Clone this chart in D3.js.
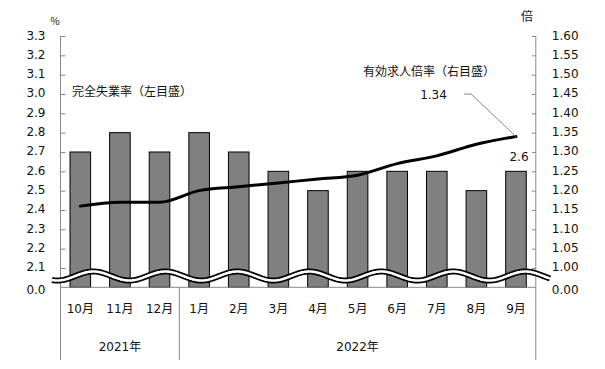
<!DOCTYPE html>
<html><head><meta charset="utf-8">
<script src="https://cdn.jsdelivr.net/npm/d3@7"></script>
<style>
html,body{margin:0;padding:0;background:#fff;}
svg text{font-family:'DejaVu Sans','Noto Sans CJK JP',sans-serif;fill:#111;}
</style></head>
<body><svg id="c" width="605" height="369"></svg>
<script>
const months = ["10月","11月","12月","1月","2月","3月","4月","5月","6月","7月","8月","9月"];
const years = ["2021年","2022年"];
const yearSpans = [3, 9];
const unemployment = [2.7,2.8,2.7,2.8,2.7,2.6,2.5,2.6,2.6,2.6,2.5,2.6];
const jobsRatio = [1.16,1.17,1.17,1.20,1.21,1.22,1.23,1.24,1.27,1.29,1.32,1.34];
const leftTicks = [2.0,2.1,2.2,2.3,2.4,2.5,2.6,2.7,2.8,2.9,3.0,3.1,3.2,3.3];
const rightTicks = [0.95,1.00,1.05,1.10,1.15,1.20,1.25,1.30,1.35,1.40,1.45,1.50,1.55,1.60];

const svg = d3.select("#c");
const X0 = 60.5, X1 = 535.8, YT = 36, YB = 287.3, YBOT = 360;
const x = d3.scaleBand().domain(months).range([X0, X1]).paddingInner(0.48).paddingOuter(0.24);
const yL = d3.scaleLinear().domain([2.0, 3.3]).range([YB, YT]);
const yR = d3.scaleLinear().domain([0.95, 1.60]).range([YB, YT]);
const fs = 12;

// bars
svg.append("g").selectAll("rect").data(unemployment).join("rect")
  .attr("x", (d,i)=>x(months[i]))
  .attr("y", d=>yL(d))
  .attr("width", x.bandwidth())
  .attr("height", d=>YB - yL(d))
  .attr("fill", "#808080").attr("stroke", "#000").attr("stroke-width", 1);

// left axis
const gL = svg.append("g").attr("transform", `translate(${X0},0)`)
  .call(d3.axisLeft(yL).tickValues(leftTicks).tickSize(-5).tickSizeOuter(0).tickPadding(15)
    .tickFormat(d => d <= 2.0 ? "0.0" : d3.format(".1f")(d)));
gL.select(".domain").remove();
gL.selectAll("line").attr("stroke", "#888");
gL.selectAll("text").attr("font-size", fs).attr("font-family", null).attr("dy", (d)=> d<=2.0 ? "0.5em" : "0.25em");
gL.selectAll(".tick").filter(d=>d<=2.0).select("line").remove();

// right axis
const gR = svg.append("g").attr("transform", `translate(${X1},0)`)
  .call(d3.axisRight(yR).tickValues(rightTicks).tickSize(-4).tickSizeOuter(0).tickPadding(16)
    .tickFormat(d => d < 1.0 ? "0.00" : d3.format(".2f")(d)));
gR.select(".domain").remove();
gR.selectAll("line").attr("stroke", "#888");
gR.selectAll("text").attr("font-size", fs).attr("font-family", null).attr("dy", d=> d<1.0 ? "0.5em" : "0.25em");
gR.selectAll(".tick").filter(d=>d<1.0).select("line").remove();

// axis lines
svg.append("line").attr("x1",X0).attr("x2",X0).attr("y1",YT).attr("y2",YBOT).attr("stroke","#888");
svg.append("line").attr("x1",X1).attr("x2",X1).attr("y1",YT).attr("y2",YBOT).attr("stroke","#888");
svg.append("line").attr("x1",X0).attr("x2",X1).attr("y1",YB).attr("y2",YB).attr("stroke","#888");

// month labels
const gX = svg.append("g").attr("transform", `translate(0,${YB})`)
  .call(d3.axisBottom(x).tickSize(0).tickPadding(17));
gX.select(".domain").remove();
gX.selectAll("text").attr("font-size", fs).attr("font-family", null);

// year groups
let start = 0;
const step = x.step();
years.forEach((yname, k) => {
  const a = x(months[start]) - x.step()*x.paddingInner()/2;
  const end = start + yearSpans[k] - 1;
  const b = x(months[end]) + x.bandwidth() + x.step()*x.paddingInner()/2;
  if (k > 0) svg.append("line").attr("x1",a).attr("x2",a).attr("y1",YB).attr("y2",YBOT).attr("stroke","#888");
  svg.append("text").attr("x",(a+b)/2).attr("y",351).attr("text-anchor","middle").attr("font-size",fs).text(yname);
  start = end + 1;
});

// jobs ratio line
const line = d3.line().x((d,i)=>x(months[i]) + x.bandwidth()/2).y(d=>yR(d)).curve(d3.curveMonotoneX);
svg.append("path").datum(jobsRatio).attr("d", line).attr("fill","none").attr("stroke","#000").attr("stroke-width",3).attr("stroke-linecap","round");

// break wave
const wx = d3.range(52, 550.5, 1);
const wave = d3.line().x(d=>d).y(d=>276 - 4.5*Math.cos(2*Math.PI*(d-93.3)/72));
svg.append("path").datum(wx).attr("d", wave).attr("fill","none").attr("stroke","#000").attr("stroke-width",6);
svg.append("path").datum(wx).attr("d", wave).attr("fill","none").attr("stroke","#fff").attr("stroke-width",2.6);

// unit labels
svg.append("text").attr("x",55).attr("y",25).attr("text-anchor","middle").attr("font-size",10).text("％");
svg.append("text").attr("x",527).attr("y",21).attr("text-anchor","middle").attr("font-size",12).text("倍");

// series labels
svg.append("text").attr("x",72).attr("y",96).attr("font-size",fs).text("完全失業率（左目盛）");
svg.append("text").attr("x",363).attr("y",76).attr("font-size",fs).text("有効求人倍率（右目盛）");

// value labels
const lastI = months.length - 1;
const lx = x(months[lastI]) + x.bandwidth()/2;
svg.append("text").attr("x", lx + 3).attr("y", yL(unemployment[lastI]) - 10).attr("text-anchor","middle").attr("font-size",fs).text(d3.format(".1f")(unemployment[lastI]));
svg.append("text").attr("x", 433.5).attr("y", 98.5).attr("text-anchor","middle").attr("font-size",fs).text(d3.format(".2f")(jobsRatio[lastI]));
svg.append("polyline").attr("points", `464,94 471,94 ${lx},${yR(jobsRatio[lastI])}`).attr("fill","none").attr("stroke","#888").attr("stroke-width",1);
</script></body></html>
